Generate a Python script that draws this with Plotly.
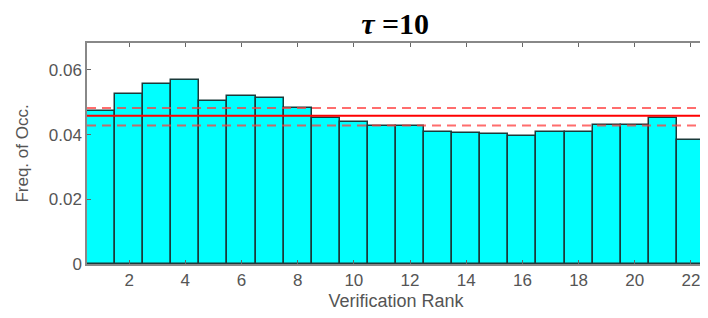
import plotly.graph_objects as go

ranks = list(range(1, 23))
freq = [0.0472, 0.0525, 0.0556, 0.0569, 0.0504, 0.0518, 0.0512, 0.0482,
        0.0451, 0.0438, 0.0425, 0.0425, 0.0409, 0.0406, 0.0401, 0.0396,
        0.0409, 0.0409, 0.0430, 0.0430, 0.0451, 0.0384]
mean_level = 0.0458
upper_level = 0.0482
lower_level = 0.0428
x_ticks = list(range(2, 23, 2))
y_ticks = [0, 0.02, 0.04, 0.06]
y_tick_labels = ["0", "0.02", "0.04", "0.06"]

fig = go.Figure()
fig.add_trace(go.Bar(x=ranks, y=freq, width=1.0,
                     marker=dict(color="#00FFFF", line=dict(color="#1a3a3a", width=1.5)),
                     showlegend=False))
xs = [0.5, 22.5]
fig.add_trace(go.Scatter(x=xs, y=[mean_level]*2, mode="lines",
                         line=dict(color="#FF0000", width=2), showlegend=False))
for lv in (upper_level, lower_level):
    fig.add_trace(go.Scatter(x=xs, y=[lv]*2, mode="lines",
                             line=dict(color="rgba(255,60,60,0.75)", width=2, dash="9px,6px"),
                             showlegend=False))

axis_font = dict(family="Liberation Sans, Arial, sans-serif", size=17, color="#555555")
# The page body adds an 8px offset; figure is sized to fill the remaining window.
fig.update_layout(
    width=700, height=310,
    margin=dict(l=79, r=1, t=35, b=54),
    paper_bgcolor="white", plot_bgcolor="white",
    bargap=0,
    title=dict(text="<b><i>τ</i> =10</b>", x=0.553, xanchor="center", y=0.985, yanchor="top",
               font=dict(family="Liberation Serif, Times New Roman, serif", size=30, color="black")),
    xaxis=dict(range=[0.5, 22.5], tickvals=x_ticks, ticks="inside", ticklen=4,
               tickcolor="#666666", showline=True, linecolor="#888888", linewidth=1.5,
               mirror="ticks", showgrid=False, zeroline=False, tickfont=axis_font,
               title=dict(text="Verification Rank",
                          font=dict(family="Liberation Sans, Arial, sans-serif", size=18, color="#555555"),
                          standoff=5)),
    yaxis=dict(range=[0, 0.0683], tickvals=y_ticks, ticktext=y_tick_labels, ticks="inside",
               ticklen=4, tickcolor="#666666", showline=True, linecolor="#888888",
               linewidth=1.5, mirror="ticks", showgrid=False, zeroline=False,
               tickfont=axis_font,
               title=dict(text="Freq. of Occ.",
                          font=dict(family="Liberation Sans, Arial, sans-serif", size=17, color="#555555"),
                          standoff=16)),
)
fig.write_html("out.html")
